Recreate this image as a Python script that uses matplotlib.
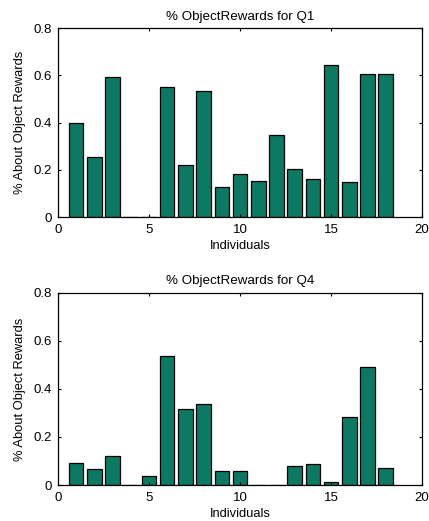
import matplotlib.pyplot as plt

# Individuals 1..18
individuals = list(range(1, 19))

# Share of "about object rewards" per individual
q1_values = [0.40, 0.255, 0.592, 0.0, 0.0, 0.552, 0.222, 0.532, 0.128,
             0.183, 0.155, 0.347, 0.205, 0.161, 0.643, 0.151, 0.604, 0.604]
q4_values = [0.092, 0.065, 0.12, 0.0, 0.039, 0.537, 0.317, 0.338, 0.059,
             0.059, 0.0, 0.0, 0.081, 0.087, 0.013, 0.285, 0.49, 0.071]

x_ticks = [0, 5, 10, 15, 20]
y_ticks = [0, 0.2, 0.4, 0.6, 0.8]
y_tick_labels = ["0", "0.2", "0.4", "0.6", "0.8"]

bar_color = "#0c7a62"

plt.rcParams["font.family"] = ["Liberation Sans", "DejaVu Sans"]

fig = plt.figure(figsize=(4.29, 5.21), dpi=100)
ax1 = fig.add_axes([0.135, 0.583, 0.849, 0.363])
ax2 = fig.add_axes([0.135, 0.069, 0.849, 0.369])


def draw_panel(ax, values, title):
    ax.bar(individuals, values, width=0.8, color=bar_color,
           edgecolor="black", linewidth=0.9)
    ax.set_xlim(0, 20)
    ax.set_ylim(0, 0.8)
    ax.set_xticks(x_ticks)
    ax.set_yticks(y_ticks)
    ax.set_yticklabels(y_tick_labels)
    ax.tick_params(direction="in", top=True, right=True, length=2.5,
                   width=0.8, labelsize=9.5)
    ax.tick_params(axis="x", pad=5)
    ax.tick_params(axis="y", pad=4)
    for s in ax.spines.values():
        s.set_linewidth(0.9)
    ax.set_title(title, fontsize=9.6, pad=6)
    ax.set_xlabel("Individuals", fontsize=9.3, labelpad=3)
    ax.set_ylabel("% About Object Rewards", fontsize=9.3, labelpad=6)


draw_panel(ax1, q1_values, "% ObjectRewards for Q1")
draw_panel(ax2, q4_values, "% ObjectRewards for Q4")

plt.savefig("out.png", dpi=100)
